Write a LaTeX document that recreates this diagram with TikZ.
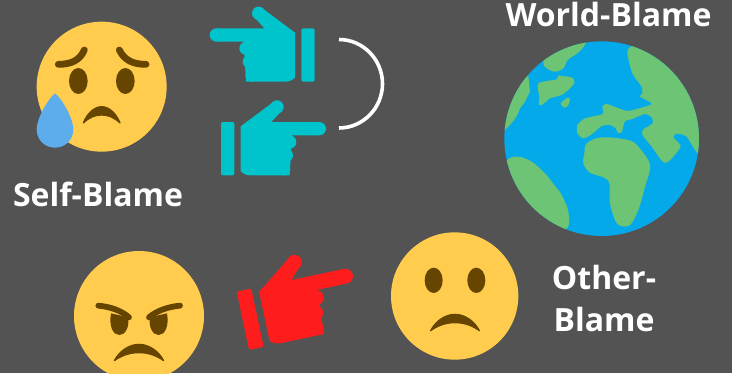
\documentclass[tikz,border=0pt]{standalone}
\usepackage{fontspec}
\setmainfont{Open Sans}
\definecolor{bgc}{HTML}{535353}
\definecolor{facec}{HTML}{FFCC4D}
\definecolor{featc}{HTML}{664500}
\definecolor{tearc}{HTML}{5DADEC}
\definecolor{tealc}{HTML}{00C4CC}
\definecolor{redc}{HTML}{FF1C1C}
\definecolor{oceanc}{HTML}{03A9E8}
\definecolor{landc}{HTML}{6DC475}
\newcommand{\myhand}{%
  \fill[rounded corners=2pt] (0,0) rectangle (40,160);
  \fill (59,13) -- (157,-60) -- (181,-33) -- (151,0) -- (295,0) -- (295,40) -- (213,40) -- (206,160) -- (88,160)
     .. controls (75,160) and (65,155) .. (59,147) -- cycle;
  \fill (168,-45) circle (20);
  \fill (295,20) circle (20);
  \fill (206,60) circle (20);
  \fill (196,100) circle (20);
  \fill (188,140) circle (20);
}
\newcommand{\myfrown}[3]{% x centre, y top, half width (zoom units)
  \begin{scope}[shift={(#1,#2)},xscale=#3/60]
    \fill[featc,line width=1.2pt,line join=round,draw=featc]
      (-57,50) .. controls (-45,20) and (-22,1) .. (0,1)
      .. controls (22,1) and (45,20) .. (57,50)
      .. controls (38,33) and (20,26) .. (0,26)
      .. controls (-20,26) and (-38,33) .. (-57,50) -- cycle;
  \end{scope}
}
\tikzset{
  lbl/.style={text=white,font=\fontsize{32}{36}\selectfont\bfseries,inner sep=0pt,align=center},
  brow/.style={draw=featc,line cap=round,line width=6.8pt},
  zoomed/.style={scale=0.33333}
}
\begin{document}
\begin{tikzpicture}[x=1pt,y=-1pt]
\useasboundingbox (0,0) rectangle (732,373);
\fill[bgc] (0,0) rectangle (732,373);
\clip (0,0) rectangle (732,373);

% sad face with tear
\begin{scope}[shift={(20,30)},zoomed]
  \fill[facec] (245,170) circle (195);
  \fill[featc] (175,153) ellipse [x radius=28,y radius=39];
  \fill[featc] (316,153) ellipse [x radius=28,y radius=39];
  \draw[brow] (115,103) .. controls (155,103) and (180,90) .. (193,60);
  \draw[brow] (378,103) .. controls (338,103) and (313,90) .. (298,60);
  \myfrown{245}{229}{58}
  \fill[tearc] (105,190) .. controls (125,205) and (160,265) .. (160,298)
     .. controls (160,330) and (135,353) .. (105,353)
     .. controls (75,353) and (50,330) .. (50,298)
     .. controls (50,265) and (85,205) .. (105,190) -- cycle;
\end{scope}

% teal hands
\begin{scope}[shift={(221,122)},zoomed,fill=tealc]
  \myhand
\end{scope}
\begin{scope}[shift={(314.7,28.3)},xscale=-0.33333,yscale=0.33333,fill=tealc]
  \myhand
\end{scope}

% white arc
\coordinate (arcA) at (339,39.5);
\coordinate (arcB) at (339,128);
\draw[white,line width=3.6pt] (arcA) .. controls (363,39.5) and (382.5,59.5) .. (382.5,83.75)
   .. controls (382.5,108) and (363,128) .. (arcB);

% earth
\begin{scope}[shift={(495,40)},zoomed]
  \fill[oceanc] (320,296) circle (292);
  \clip (320,296) circle (292);
  \fill[landc] plot[smooth cycle,tension=0.55] coordinates {(290,-30) (275,5) (260,28) (240,45) (218,60) (205,85) (180,95) (155,85) (145,68) (160,30) (220,-20)};
  \fill[landc] plot[smooth cycle,tension=0.45] coordinates {(130,130) (185,118) (190,107) (232,113) (238,128) (225,145) (200,165) (165,175) (145,192) (132,195) (133,170)};
  \fill[landc] plot[smooth cycle,tension=0.5] coordinates {(197,190) (218,173) (225,178) (220,195) (208,203)};
  \fill[landc] (100,107) -- (105,155) -- (90,185) -- (75,205) .. controls (65,235) and (50,250) .. (28,272) -- (0,200) -- (60,130) -- cycle;
  \fill[landc] plot[smooth cycle,tension=0.5] coordinates {(35,362) (70,350) (110,365) (150,400) (180,438) (200,465) (220,515) (213,568) (120,570) (20,440)};
  \fill[landc] plot[smooth cycle,tension=0.55] coordinates {(275,310) (320,292) (400,300) (430,320) (465,375) (450,440) (430,510) (405,555) (375,557) (360,540) (345,490) (343,430) (325,412) (285,398) (265,370) (268,340)};
  \fill[landc] plot[smooth cycle,tension=0.4] coordinates {(397,35) (412,100) (440,140) (442,160) (435,170) (470,192) (405,212) (385,210) (335,192) (322,200) (323,222) (270,235) (247,255) (247,280) (265,295) (290,283) (320,258) (345,255) (362,265) (368,278) (380,277) (390,243) (410,238) (450,222) (470,232) (473,250) (445,268) (442,285) (470,320) (500,362) (515,368) (535,350) (557,318) (535,292) (545,281) (575,290) (610,340) (660,300) (660,100) (500,20) (420,15)};
\end{scope}

% angry face
\begin{scope}[shift={(60,240)},zoomed]
  \fill[facec] (237,228) circle (195);
  \fill[featc] (153,220) .. controls (146,260) and (160,285) .. (178,285)
     .. controls (196,285) and (208,262) .. (205,232) -- cycle;
  \fill[featc] (321,220) .. controls (328,260) and (314,285) .. (296,285)
     .. controls (278,285) and (266,262) .. (269,232) -- cycle;
  \draw[brow,line width=5.8pt] (115,197) .. controls (150,200) and (185,212) .. (207,232);
  \draw[brow,line width=5.8pt] (360,197) .. controls (325,200) and (290,212) .. (267,232);
  \myfrown{237}{312}{78}
\end{scope}

% red hand
\begin{scope}[shift={(236.7,291.7)},scale=0.372,rotate=12,fill=redc]
  \myhand
\end{scope}

% frowning face
\begin{scope}[shift={(380,225)},zoomed]
  \fill[facec] (224,213) circle (191);
  \fill[featc] (161,166) ellipse [x radius=27,y radius=38];
  \fill[featc] (289,166) ellipse [x radius=27,y radius=38];
  \myfrown{225}{267}{77}
\end{scope}

% labels
\node[lbl] (self) at (98,194) {Self-Blame};
\node[lbl] (world) at (608.5,14) {World-Blame};
\node[lbl] (other1) at (604,277) {Other-};
\node[lbl] (other2) at (604,319) {Blame};
\end{tikzpicture}
\end{document}
